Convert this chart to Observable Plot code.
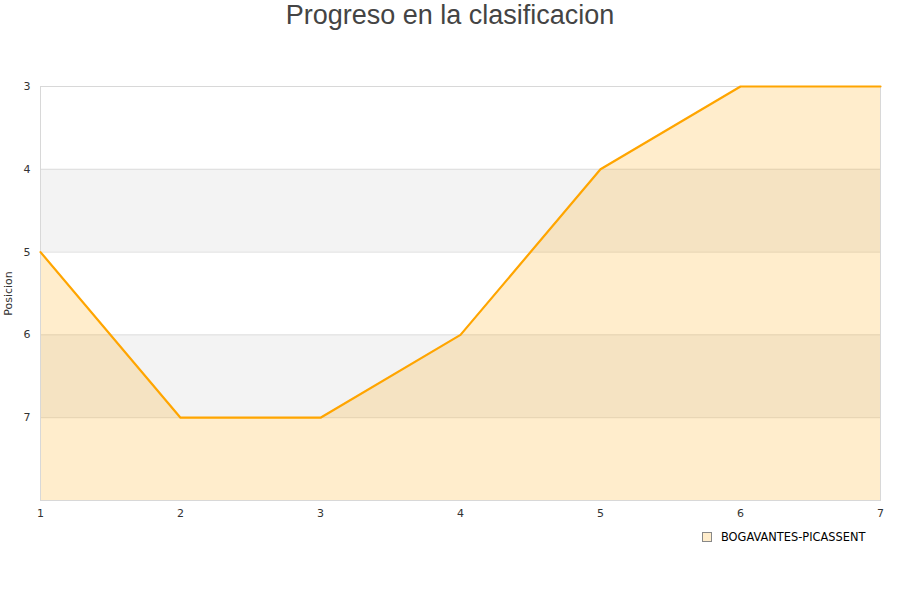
<!DOCTYPE html>
<html>
<head>
<meta charset="utf-8">
<script src="https://cdn.jsdelivr.net/npm/d3@7"></script>
<script src="https://cdn.jsdelivr.net/npm/@observablehq/plot@0.6"></script>
<style>
  body { margin: 0; background: #fff; width: 900px; height: 600px; overflow: hidden; }
  #title { height: 40px; line-height: 30px; text-align: center; font-family: "Liberation Sans", Arial, sans-serif; font-size: 27px; color: #444; }
  #legend { position: absolute; left: 702px; top: 530px; font-family: "DejaVu Sans", sans-serif; font-size: 11.4px; color: #000; display: flex; align-items: center; }
  #legend .sw { width: 8px; height: 8px; background: #FFEDCC; border: 1px solid #888; margin-right: 9px; }
</style>
</head>
<body>
<div id="title">Progreso en la clasificacion</div>
<div id="chart"></div>
<div id="legend"><span class="sw"></span><span>BOGAVANTES-PICASSENT</span></div>
<script>
const jornadas = [1, 2, 3, 4, 5, 6, 7];
const posiciones = [5, 7, 7, 6, 4, 3, 3];
const equipo = "BOGAVANTES-PICASSENT";
const yTicks = [3, 4, 5, 6, 7];
const yDomain = [3, 8];
const bandas = [[4, 5], [6, 7]];

const data = jornadas.map((j, i) => ({ jornada: j, pos: posiciones[i], equipo }));
const xDomain = d3.extent(jornadas);
const bandData = bandas.map(([a, b]) => ({ y1: a, y2: b, x1: xDomain[0], x2: xDomain[1] }));

const chart = Plot.plot({
  width: 900,
  height: 490,
  marginTop: 46,
  marginBottom: 30,
  marginLeft: 40,
  marginRight: 20,
  style: { fontFamily: "DejaVu Sans, sans-serif", fontSize: "11px", color: "#333", background: "#fff" },
  x: { domain: xDomain, ticks: jornadas },
  y: { domain: yDomain, reverse: true },
  marks: [
    Plot.rect(bandData, { x1: "x1", x2: "x2", y1: "y1", y2: "y2", fill: "#F3F3F3" }),
    Plot.ruleY(yTicks, { stroke: "#ddd" }),
    Plot.areaY(data, { x: "jornada", y1: () => yDomain[1], y2: "pos", fill: "#FFA500", fillOpacity: 0.2 }),
    Plot.frame({ stroke: "#d8d8d8" }),
    Plot.lineY(data, { x: "jornada", y: "pos", stroke: "#FFA500", strokeWidth: 2.2 }),
    Plot.axisX({ ticks: jornadas, tickSize: 0, tickPadding: 9, label: null, tickFormat: d3.format("d") }),
    Plot.axisY({ ticks: yTicks, tickSize: 0, tickPadding: 10, tickFormat: d3.format("d"), label: "Posicion", labelAnchor: "center", labelArrow: "none", labelOffset: 36 })
  ]
});
document.getElementById("chart").appendChild(chart);
</script>
</body>
</html>
